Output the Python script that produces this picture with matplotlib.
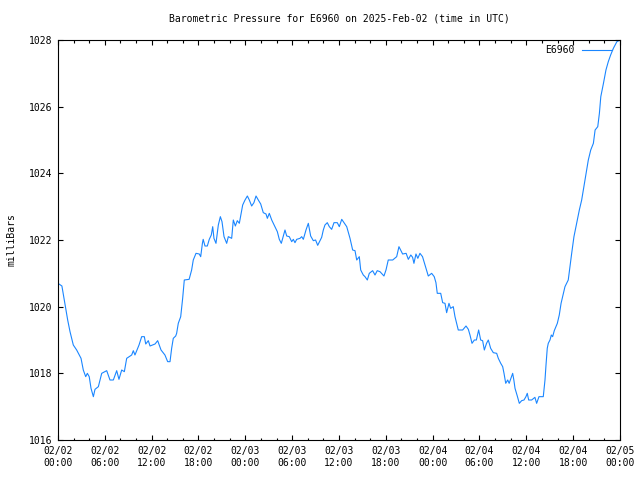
import matplotlib
matplotlib.use("Agg")
import matplotlib.pyplot as plt
import matplotlib.dates as mdates
import numpy as np
from datetime import datetime, timedelta

# hours since 2025-02-02 00:00 UTC, pressure in mb
hours = [0.0, 0.5, 0.8, 1.24, 1.54, 1.96, 2.39, 2.95, 3.24, 3.55, 3.76, 4.0, 4.23, 4.53, 4.74,
         5.17, 5.6, 6.24, 6.66, 7.09, 7.52, 7.81, 8.16, 8.5, 8.8, 9.44, 9.65, 9.86, 10.38, 10.72,
         11.06, 11.24, 11.57, 11.79, 12.43, 12.77, 13.2, 13.7, 14.05, 14.35, 14.56, 14.77, 15.08,
         15.2, 15.41, 15.72, 15.97, 16.18, 16.8, 17.12, 17.33, 17.68, 18.1, 18.28, 18.5, 18.6,
         18.83, 19.13, 19.38, 19.64, 19.82, 19.98, 20.24, 20.54, 20.8, 21.01, 21.27, 21.61, 21.82,
         22.25, 22.46, 22.72, 22.97, 23.23, 23.66, 23.96, 24.26, 24.51, 24.81, 25.1, 25.37, 25.66,
         25.97, 26.3, 26.65, 26.82, 27.07, 27.38, 27.8, 28.1, 28.35, 28.61, 28.87, 29.08, 29.3,
         29.63, 29.94, 30.15, 30.36, 30.58, 31.0, 31.22, 31.43, 31.77, 32.07, 32.37, 32.71, 33.0,
         33.27, 33.56, 33.78, 33.99, 34.2, 34.5, 34.76, 35.06, 35.36, 35.78, 36.04, 36.35, 36.64,
         36.99, 37.41, 37.75, 38.05, 38.27, 38.6, 38.78, 39.11, 39.33, 39.63, 39.88, 40.31, 40.61,
         40.9, 41.25, 41.76, 42.02, 42.31, 42.88, 43.39, 43.68, 44.15, 44.6, 44.88, 45.2, 45.43,
         45.6, 45.86, 46.1, 46.37, 46.7, 47.02, 47.44, 47.87, 48.2, 48.42, 48.59, 49.03, 49.28,
         49.58, 49.79, 50.09, 50.3, 50.64, 50.86, 51.07, 51.28, 51.84, 52.27, 52.57, 52.78, 53.04,
         53.34, 53.6, 53.89, 54.15, 54.4, 54.62, 54.9, 55.13, 55.43, 55.77, 56.2, 56.41, 56.72,
         56.97, 57.14, 57.36, 57.61, 57.8, 58.03, 58.25, 58.4, 58.55, 58.84, 59.1, 59.4, 59.7,
         59.95, 60.12, 60.3, 60.68, 61.1, 61.32, 61.62, 62.17, 62.39, 62.52, 62.68, 62.81, 63.03,
         63.2, 63.37, 63.58, 63.8, 63.97, 64.22, 64.45, 64.65, 64.95, 65.37, 65.59, 65.81, 66.1,
         66.45, 66.79, 67.09, 67.3, 67.51, 67.73, 67.94, 68.25, 68.59, 68.81, 69.15, 69.36, 69.54,
         69.88, 70.2, 70.5, 70.8, 71.15, 71.6, 72.0]
pressure = [1020.7, 1020.62, 1020.2, 1019.6, 1019.25, 1018.85, 1018.7, 1018.45, 1018.1, 1017.9,
            1018.0, 1017.9, 1017.55, 1017.3, 1017.52, 1017.6, 1018.0, 1018.08, 1017.8, 1017.8,
            1018.08, 1017.82, 1018.1, 1018.05, 1018.45, 1018.55, 1018.68, 1018.55, 1018.85, 1019.1,
            1019.1, 1018.88, 1018.98, 1018.82, 1018.88, 1018.98, 1018.7, 1018.55, 1018.35, 1018.35,
            1018.75, 1019.05, 1019.12, 1019.2, 1019.5, 1019.7, 1020.25, 1020.8, 1020.82, 1021.1,
            1021.4, 1021.6, 1021.58, 1021.5, 1021.9, 1022.02, 1021.82, 1021.82, 1022.02, 1022.15,
            1022.4, 1022.05, 1021.9, 1022.45, 1022.7, 1022.55, 1022.1, 1021.9, 1022.1, 1022.05,
            1022.6, 1022.42, 1022.58, 1022.5, 1023.05, 1023.2, 1023.32, 1023.2, 1023.02, 1023.12,
            1023.32, 1023.2, 1023.08, 1022.82, 1022.78, 1022.65, 1022.8, 1022.6, 1022.4, 1022.25,
            1022.02, 1021.9, 1022.12, 1022.3, 1022.12, 1022.1, 1021.95, 1022.02, 1021.92, 1022.02,
            1022.05, 1022.1, 1022.02, 1022.3, 1022.5, 1022.12, 1021.98, 1022.0, 1021.84, 1021.98,
            1022.08, 1022.3, 1022.45, 1022.52, 1022.4, 1022.32, 1022.52, 1022.52, 1022.4, 1022.62,
            1022.52, 1022.4, 1022.05, 1021.7, 1021.68, 1021.4, 1021.5, 1021.1, 1020.95, 1020.9,
            1020.8, 1021.0, 1021.08, 1020.95, 1021.08, 1021.05, 1020.92, 1021.1, 1021.4, 1021.4,
            1021.5, 1021.8, 1021.58, 1021.6, 1021.42, 1021.55, 1021.48, 1021.3, 1021.58, 1021.45,
            1021.6, 1021.5, 1021.25, 1020.92, 1021.0, 1020.9, 1020.72, 1020.4, 1020.4, 1020.12,
            1020.1, 1019.82, 1020.1, 1019.95, 1020.0, 1019.7, 1019.5, 1019.3, 1019.3, 1019.42,
            1019.32, 1019.15, 1018.9, 1019.0, 1019.0, 1019.3, 1019.0, 1018.98, 1018.7, 1018.9,
            1019.0, 1018.75, 1018.62, 1018.6, 1018.45, 1018.3, 1018.2, 1018.0, 1017.7, 1017.8,
            1017.7, 1017.85, 1018.0, 1017.8, 1017.55, 1017.32, 1017.1, 1017.18, 1017.2, 1017.3,
            1017.4, 1017.2, 1017.2, 1017.28, 1017.1, 1017.3, 1017.3, 1017.8, 1018.25, 1018.75,
            1018.9, 1019.0, 1019.15, 1019.1, 1019.28, 1019.4, 1019.5, 1019.75, 1020.1, 1020.3,
            1020.6, 1020.8, 1021.2, 1021.6, 1022.1, 1022.5, 1022.9, 1023.2, 1023.5, 1023.8,
            1024.1, 1024.4, 1024.7, 1024.9, 1025.3, 1025.4, 1025.8, 1026.3, 1026.7, 1027.1,
            1027.35, 1027.55, 1027.75, 1027.95, 1028.0]

station = "E6960"
start = datetime(2025, 2, 2)
times = [start + timedelta(hours=h) for h in hours]

plt.rcParams['font.family'] = ['DejaVu Sans Mono']
fs = 7

fig = plt.figure(figsize=(6.4, 4.8), dpi=100)
ax = fig.add_axes([58/640, 40/480, 562/640, 400/480])
ax.plot(times, pressure, color='#1a86ff', lw=0.8, label=station)

ax.set_xlim(start, start + timedelta(hours=72))
ax.set_ylim(1016, 1028)
ax.set_yticks(np.arange(1016, 1029, 2))
ax.xaxis.set_major_locator(mdates.HourLocator(byhour=[0, 6, 12, 18]))
ax.xaxis.set_minor_locator(mdates.HourLocator(interval=2))
ax.xaxis.set_major_formatter(mdates.DateFormatter('%m/%d\n%H:%M'))
ax.tick_params(which='both', direction='in', top=True, right=True, labelsize=fs, width=0.8)
ax.tick_params(which='major', length=3.3)
ax.tick_params(which='minor', length=1.8)
ax.tick_params(axis='x', pad=4)
ax.tick_params(axis='y', pad=4)
for lab in ax.get_xticklabels():
    lab.set_linespacing(1.35)
for s in ax.spines.values():
    s.set_linewidth(0.8)

ax.set_ylabel('milliBars', fontsize=fs, labelpad=9)
ax.set_title('Barometric Pressure for E6960 on 2025-Feb-02 (time in UTC)', fontsize=fs, pad=13)
leg = ax.legend(loc='upper right', bbox_to_anchor=(1.0, 1.008), frameon=False, fontsize=fs,
                handlelength=3.1, handletextpad=0.7, markerfirst=False, borderaxespad=0.45)

fig.savefig('out.png', dpi=100)
